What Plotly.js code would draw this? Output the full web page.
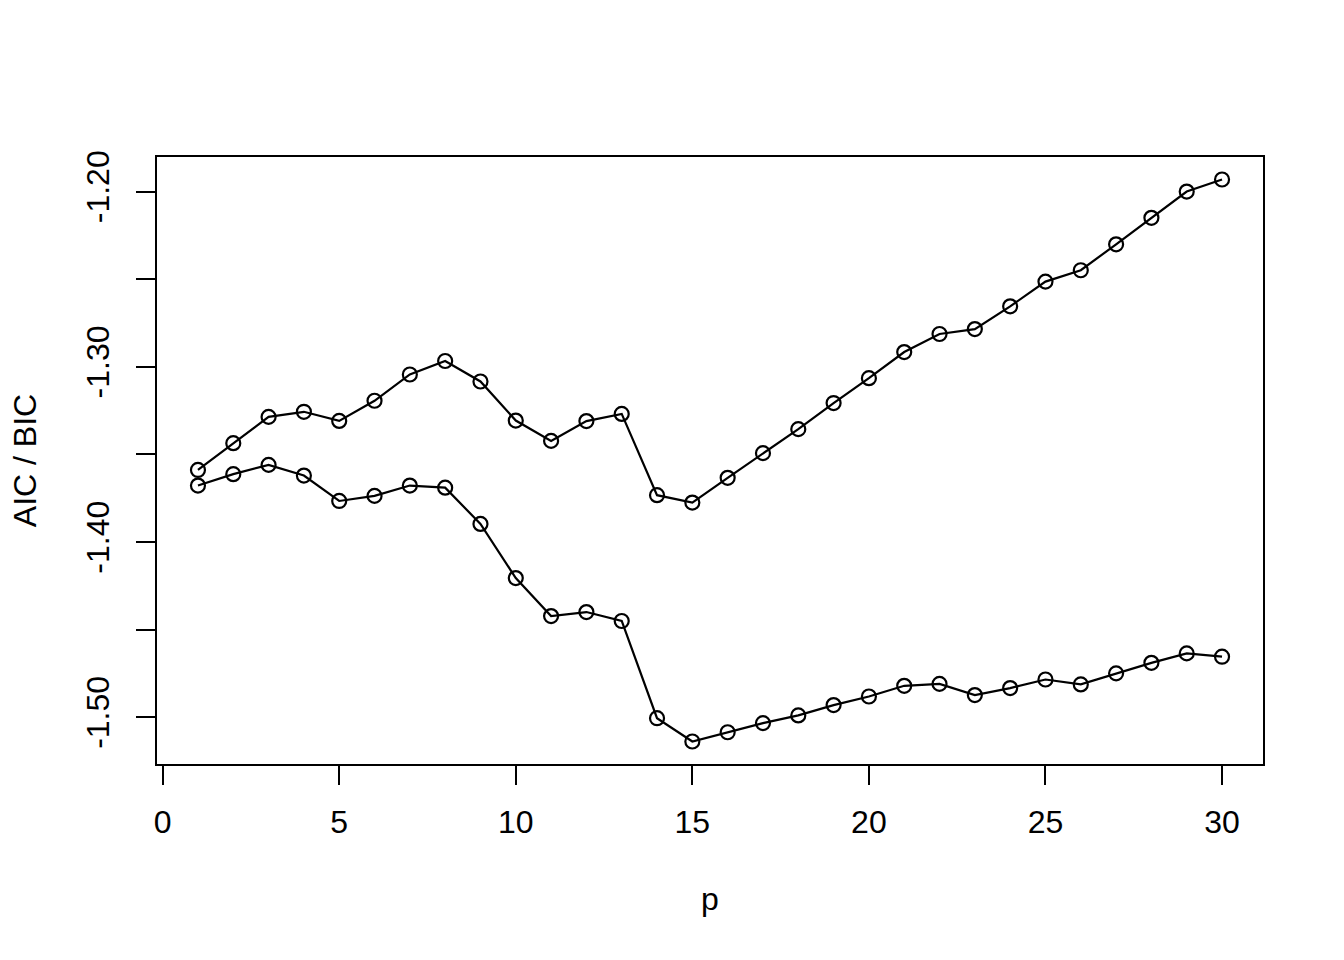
<!DOCTYPE html>
<html>
<head>
<meta charset="utf-8">
<script src="https://cdn.plot.ly/plotly-3.0.1.min.js"></script>
<style>html,body{margin:0;padding:0;background:#fff;}#chart{width:1344px;height:960px;}</style>
</head>
<body>
<div id="chart"></div>
<script>
const p = [1,2,3,4,5,6,7,8,9,10,11,12,13,14,15,16,17,18,19,20,21,22,23,24,25,26,27,28,29,30];
const bic = [-1.3589,-1.3436,-1.3286,-1.3257,-1.3309,-1.3194,-1.3044,-1.2967,-1.3084,-1.3307,
             -1.3423,-1.3310,-1.3269,-1.3733,-1.3775,-1.3634,-1.3493,-1.3356,-1.3207,-1.3065,
             -1.2916,-1.2813,-1.2785,-1.2655,-1.2514,-1.2449,-1.2301,-1.2150,-1.2000,-1.1931];
const aic = [-1.3678,-1.3613,-1.3560,-1.3621,-1.3766,-1.3737,-1.3678,-1.3690,-1.3897,-1.4206,
             -1.4423,-1.4400,-1.4451,-1.5006,-1.5139,-1.5086,-1.5034,-1.4990,-1.4931,-1.4882,
             -1.4821,-1.4810,-1.4874,-1.4834,-1.4785,-1.4813,-1.4750,-1.4690,-1.4636,-1.4655];
const xTickVals = [0,5,10,15,20,25,30];
const yTickVals = [-1.50,-1.45,-1.40,-1.35,-1.30,-1.25,-1.20];
const yTickText = ['-1.50','','-1.40','','-1.30','','-1.20'];
const xTitle = 'p';
const yTitle = 'AIC / BIC';

const FONT = 'Liberation Sans, Arial, Helvetica, sans-serif';
function pad(lo, hi){ const d = (hi-lo)*0.04; return [lo-d, hi+d]; }
const allY = bic.concat(aic);
const yr = pad(Math.min(...allY), Math.max(...allY));
const xr = pad(Math.min(...p), Math.max(...p));

const style = {
  mode: 'lines+markers',
  line: {color: '#000', width: 2.2},
  marker: {symbol: 'circle-open', size: 14, color: '#000', line: {color: '#000', width: 2.2}},
  showlegend: false,
  cliponaxis: false
};
const traces = [
  Object.assign({x: p, y: bic, type: 'scatter', name: 'BIC'}, style),
  Object.assign({x: p, y: aic, type: 'scatter', name: 'AIC'}, style)
];

const layout = {
  width: 1344, height: 960,
  margin: {l: 157, r: 81, t: 157, b: 196, pad: 0},
  paper_bgcolor: '#fff', plot_bgcolor: '#fff',
  font: {family: FONT, size: 32, color: '#000'},
  xaxis: {
    range: xr, tickmode: 'array', tickvals: xTickVals,
    ticks: 'outside', ticklen: 19, tickwidth: 2, tickcolor: '#000',
    showline: true, mirror: true, linecolor: '#000', linewidth: 2,
    showgrid: false, zeroline: false,
    tickfont: {family: FONT, size: 32, color: '#000'},
    ticklabelstandoff: 10,
    title: {text: xTitle, font: {family: FONT, size: 32, color: '#000'}, standoff: 48},
    automargin: false
  },
  yaxis: {
    range: yr, tickmode: 'array', tickvals: yTickVals, ticktext: yTickText,
    tickangle: -90,
    ticks: 'outside', ticklen: 19, tickwidth: 2, tickcolor: '#000',
    showline: true, mirror: true, linecolor: '#000', linewidth: 2,
    showgrid: false, zeroline: false,
    tickfont: {family: FONT, size: 32, color: '#000'},
    ticklabelstandoff: 14,
    title: {text: yTitle, font: {family: FONT, size: 32, color: '#000'}, standoff: 34},
    automargin: false
  }
};
Plotly.newPlot('chart', traces, layout, {displayModeBar: false, staticPlot: true});
</script>
</body>
</html>
